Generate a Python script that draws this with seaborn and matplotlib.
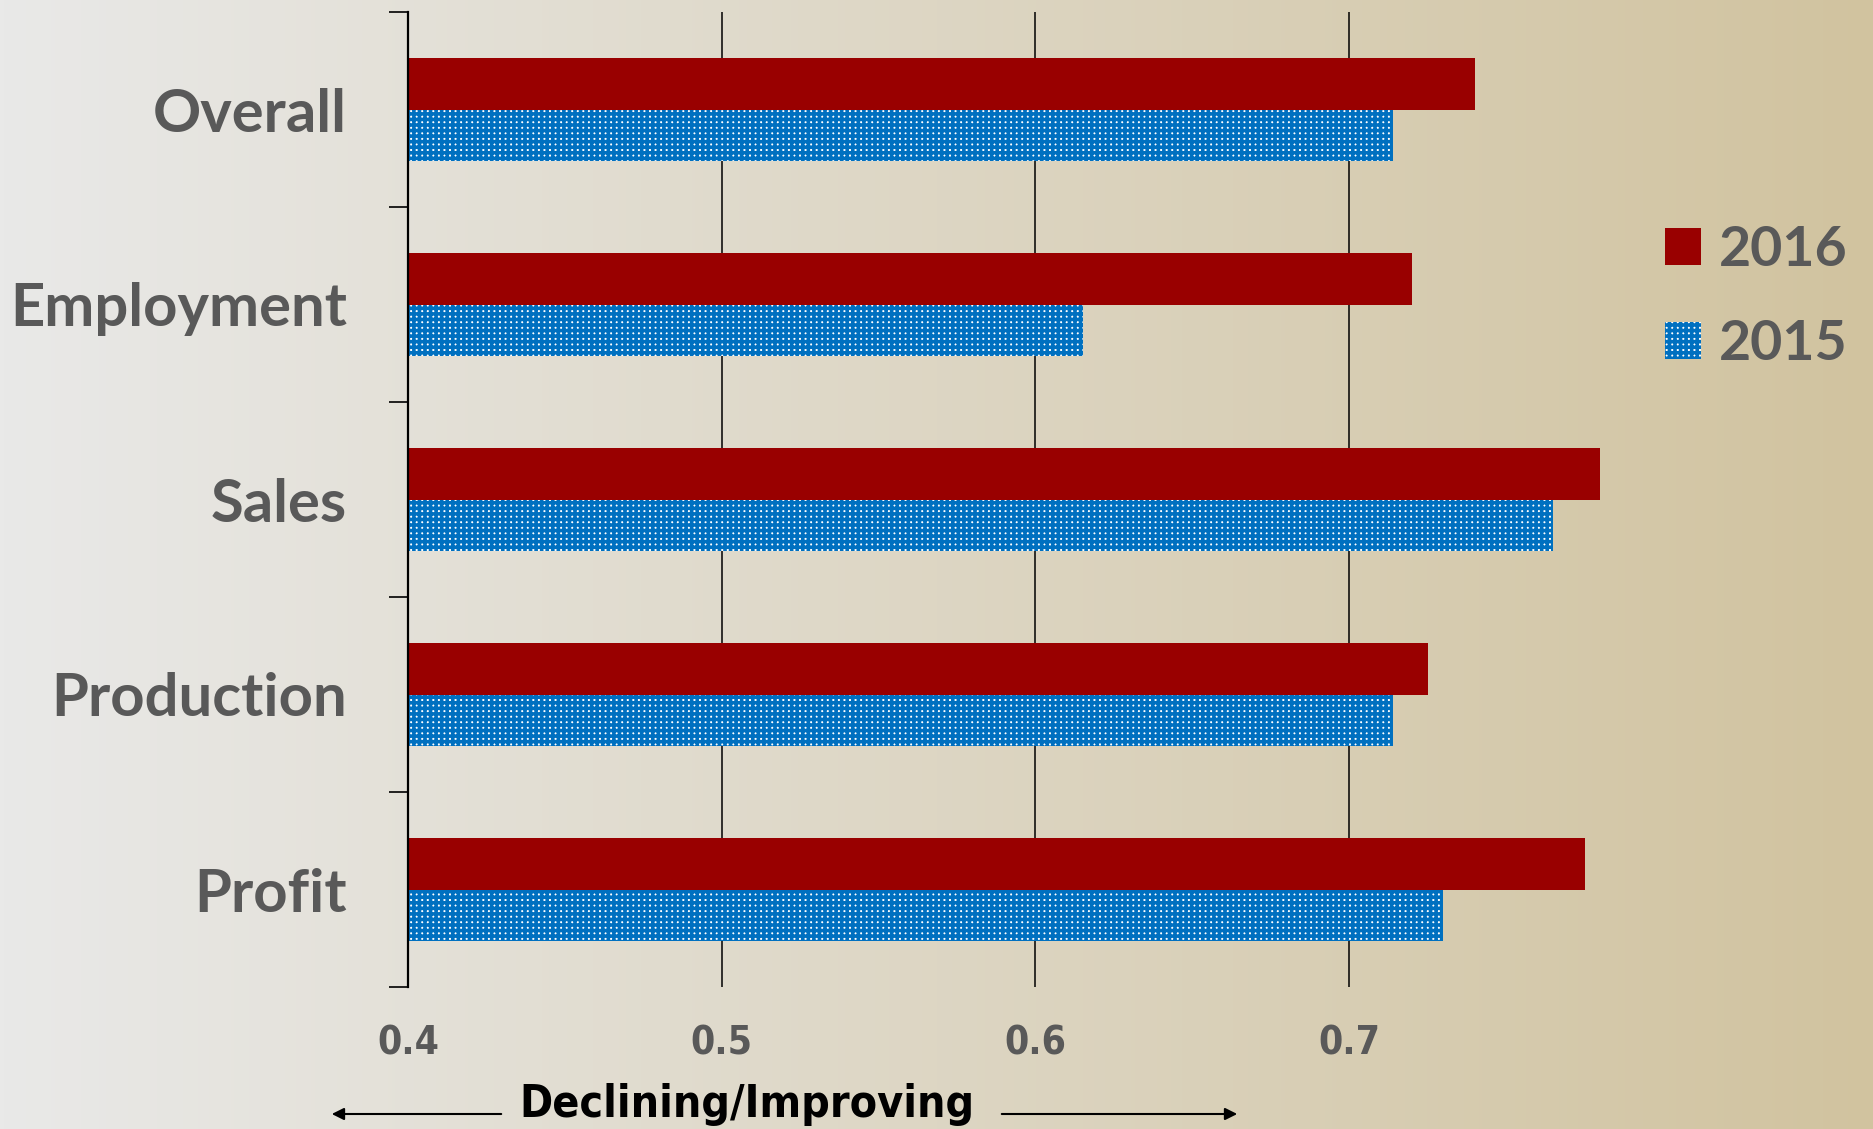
#setup
import numpy as np
import pandas as pd
import matplotlib
matplotlib.use("Agg")
import matplotlib.pyplot as plt
from matplotlib.patches import Patch, FancyArrowPatch
import seaborn as sns

# chart values
categories = ["Overall", "Employment", "Sales", "Production", "Profit"]
years = ["2016", "2015"]
values_2016 = [0.740, 0.720, 0.780, 0.725, 0.775]
values_2015 = [0.714, 0.615, 0.765, 0.714, 0.730]
x_ticks = [0.4, 0.5, 0.6, 0.7]
x_ticklabels = ["0.4", "0.5", "0.6", "0.7"]
axis_caption = "Declining/Improving"

#long format for seaborn
df = pd.DataFrame({
    "category": categories * 2,
    "year": ["2016"] * len(categories) + ["2015"] * len(categories),
    "value": values_2016 + values_2015,
})

sns.set_style("white")
plt.rcParams["font.family"] = ["Lato", "DejaVu Sans"]
plt.rcParams["hatch.linewidth"] = 2.6

gray = "#595959"
red = "#990000"
blue = "#0070C0"

fig = plt.figure(figsize=(18.74, 11.29), dpi=100)
fig.patch.set_facecolor("none")

#gradient background over the whole figure
bg = fig.add_axes([0, 0, 1, 1], zorder=-10)
left_c = np.array([233, 233, 232]) / 255
right_c = np.array([209, 195, 159]) / 255
t = np.linspace(0, 1, 512)[None, :, None]
grad = left_c[None, None, :] * (1 - t) + right_c[None, None, :] * t
bg.imshow(grad, aspect="auto", extent=[0, 1, 0, 1])
bg.axis("off")

ax = fig.add_axes([408 / 1874, 1 - 987 / 1129, (1663 - 408) / 1874, (987 - 12) / 1129])
ax.set_facecolor("none")

sns.barplot(data=df, y="category", x="value", hue="year", hue_order=years,
            order=categories, orient="h", palette={"2016": red, "2015": blue},
            width=0.53, saturation=1, errorbar=None, ax=ax)

#2015 bars get the white dotted pattern
for bar in ax.containers[1]:
    bar.set_facecolor("white")
    bar.set_edgecolor(blue)
    bar.set_hatch("+++")
    bar.set_linewidth(0)
for bar in ax.containers[0]:
    bar.set_linewidth(0)

ax.set_xlim(0.4, 0.8)
ax.set_ylim(4.5, -0.5)
ax.set_xticks(x_ticks)
ax.set_xticklabels(x_ticklabels)
ax.set_xlabel("")
ax.set_ylabel("")
ax.grid(axis="x", color="black", lw=1.1)
ax.grid(axis="y", visible=False)
ax.set_axisbelow(True)

for side in ["top", "right", "bottom"]:
    ax.spines[side].set_visible(False)
ax.spines["left"].set_color("black")
ax.spines["left"].set_linewidth(1.6)

ax.set_yticks(np.arange(-0.5, 5, 1), minor=True)
ax.tick_params(axis="y", which="minor", left=True, length=13.5, width=1.2, color="black", direction="out")
ax.tick_params(axis="y", which="major", left=True, length=0, pad=44)
ax.tick_params(axis="x", length=0, pad=27)

for lab in ax.get_yticklabels():
    lab.set_fontsize(43)
    lab.set_fontweight("bold")
    lab.set_color(gray)
for lab in ax.get_xticklabels():
    lab.set_family("DejaVu Sans")
    lab.set_fontstretch("condensed")
    lab.set_fontsize(28)
    lab.set_fontweight("bold")
    lab.set_color(gray)

#legend outside on the right
ax.get_legend().remove()
handles = [Patch(facecolor=red, edgecolor="none", lw=0),
           Patch(facecolor="white", edgecolor=blue, hatch="+++", lw=0)]
leg = ax.legend(handles, years, loc="center left",
                bbox_to_anchor=(1665 / 1874, 1 - 297 / 1129), bbox_transform=fig.transFigure,
                frameon=False, fontsize=40, handlelength=0.65, handleheight=0.65,
                handletextpad=0.32, labelspacing=0.8, borderpad=0, borderaxespad=0)
for txt in leg.get_texts():
    txt.set_color(gray)
    txt.set_fontweight("bold")

#axis caption with arrows
fig.text(747 / 1874, 1 - 1105 / 1129, axis_caption, ha="center", va="center",
         fontsize=32, fontweight="bold", color="black", family="DejaVu Sans", fontstretch="condensed")
y_arr = 1 - 1114 / 1129
fig.add_artist(FancyArrowPatch((504 / 1874, y_arr), (329 / 1874, y_arr), transform=fig.transFigure,
                               arrowstyle="-|>", mutation_scale=18, lw=1.5, color="black"))
fig.add_artist(FancyArrowPatch((999 / 1874, y_arr), (1240 / 1874, y_arr), transform=fig.transFigure,
                               arrowstyle="-|>", mutation_scale=18, lw=1.5, color="black"))

fig.savefig("out.png", dpi=100)
